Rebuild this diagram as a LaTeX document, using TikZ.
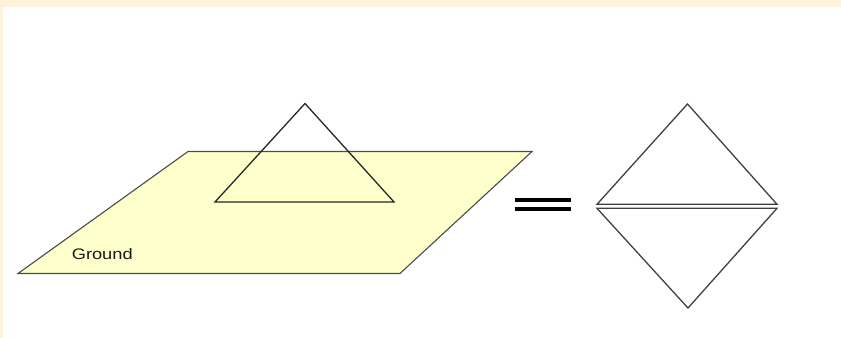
\documentclass[tikz,border=0pt]{standalone}
\usepackage{fontspec}
\setmainfont{Liberation Sans}
\definecolor{frame}{HTML}{FFF2DA}
\definecolor{groundfill}{HTML}{FFFFCC}
\begin{document}
\begin{tikzpicture}[
    x=0.3mm, y=-0.3mm,
    % Shape styles (plane, triangles, equals sign)
    plane/.style={fill=groundfill, draw=black!70, line width=0.95pt, line join=miter},
    tri/.style={draw=black!85, line width=1.1pt, line join=miter},
    halftri/.style={draw=black!75, line width=1.1pt, line join=miter},
    eqbar/.style={line width=3.4pt, black},
    lbl/.style={font=\fontsize{13}{15}\selectfont, text=black!90, inner sep=0pt, anchor=base west, xscale=1.2}
]

% ---------------------------------------------------------
% 1. BACKGROUND (cream frame)
% ---------------------------------------------------------
\fill[frame] (0,0) rectangle (841,338);
\fill[white] (3,7) rectangle (841,338);
\useasboundingbox (0,0) rectangle (841,338);

% ---------------------------------------------------------
% 2. GROUND PLANE AND CUT TRIANGLE
% ---------------------------------------------------------
\coordinate (gtl) at (188,151.5);
\coordinate (gtr) at (532,151.5);
\coordinate (gbr) at (400,273.5);
\coordinate (gbl) at (18,273.5);
\draw[plane] (gtl) -- (gtr) -- (gbr) -- (gbl) -- cycle;
\node[lbl] (ground) at (71.5,259) {Ground};

\coordinate (apex) at (305,103.5);
\coordinate (bl) at (215,202);
\coordinate (br) at (394,202);
\draw[tri] (apex) -- (br) -- (bl) -- cycle;

% ---------------------------------------------------------
% 3. EQUALS SIGN
% ---------------------------------------------------------
\coordinate (eq1a) at (514.5,200);
\coordinate (eq1b) at (570.5,200);
\coordinate (eq2a) at (514.5,209.2);
\coordinate (eq2b) at (570.5,209.2);
\draw[eqbar] (eq1a) -- (eq1b);
\draw[eqbar] (eq2a) -- (eq2b);

% ---------------------------------------------------------
% 4. DIAMOND (upper and lower halves)
% ---------------------------------------------------------
\coordinate (dtop) at (687.5,104);
\coordinate (dul) at (597,204.3);
\coordinate (dur) at (777,204.3);
\draw[halftri] (dtop) -- (dur) -- (dul) -- cycle;

\coordinate (dbot) at (688,308);
\coordinate (dll) at (597,208.3);
\coordinate (dlr) at (777,208.3);
\draw[halftri] (dbot) -- (dlr) -- (dll) -- cycle;

\end{tikzpicture}
\end{document}
